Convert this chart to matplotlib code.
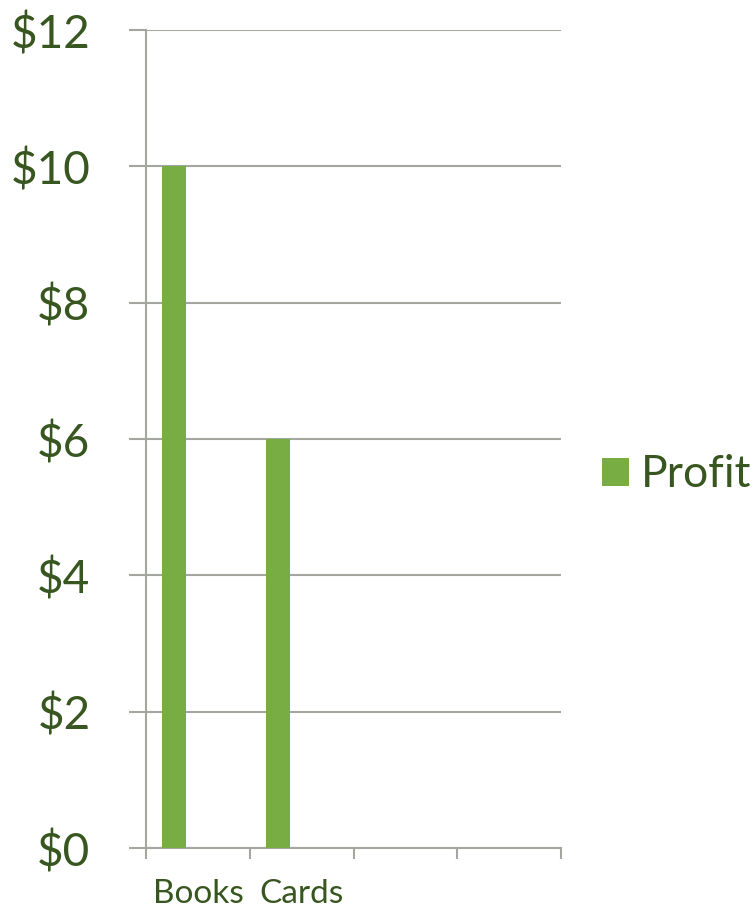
import matplotlib.pyplot as plt
import numpy as np

categories = ['Books', 'Cards', '', '']
profit = [10, 6, 0, 0]
yticks = [0, 2, 4, 6, 8, 10, 12]
ytick_labels = ['$0', '$2', '$4', '$6', '$8', '$10', '$12']

green = '#77AD43'
text_col = '#38561F'
grid_col = '#A3A7A0'

plt.rcParams['font.family'] = ['Lato', 'DejaVu Sans']

fig = plt.figure(figsize=(7.53, 9.09), dpi=100)
ax = fig.add_axes([146 / 753, 1 - 848 / 909, (561 - 146) / 753, (848 - 30) / 909])

x = np.arange(len(categories))
ax.bar(x - 0.23, profit, width=0.23, color=green, label='Profit', zorder=3)

ax.set_xlim(-0.5, 3.5)
ax.set_ylim(0, 12)
ax.set_yticks(yticks)
ax.set_yticklabels(ytick_labels, fontsize=33, color=text_col)
ax.yaxis.grid(True, color=grid_col, linewidth=1.5, zorder=0)
ax.tick_params(axis='y', length=12, width=1.5, color=grid_col, pad=28)

ax.set_xticks(np.arange(-0.5, 4, 1))
ax.set_xticklabels([])
ax.set_xticks(x[:2], minor=True)
ax.set_xticklabels(categories[:2], minor=True, fontsize=24, color=text_col)
ax.tick_params(axis='x', which='major', length=8, width=1.5, color=grid_col)
ax.tick_params(axis='x', which='minor', length=0, pad=22)

for s in ['top', 'right']:
    ax.spines[s].set_visible(False)
for s in ['left', 'bottom']:
    ax.spines[s].set_color(grid_col)
    ax.spines[s].set_linewidth(1.5)

leg = ax.legend(loc='center left', bbox_to_anchor=(1.099, 0.456), frameon=False,
                fontsize=32, handlelength=0.6, handleheight=0.6,
                handletextpad=0.28, borderpad=0, borderaxespad=0)
for t in leg.get_texts():
    t.set_color(text_col)

fig.savefig('out.png', dpi=100)
